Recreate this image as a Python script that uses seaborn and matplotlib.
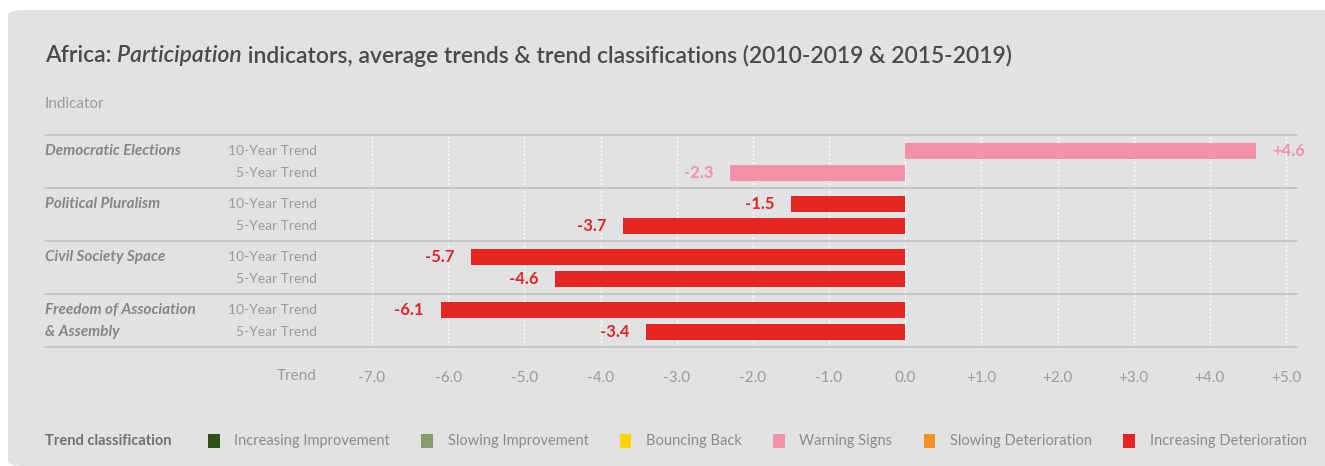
"""Africa participation indicators: 10-year and 5-year average trends."""
import matplotlib
matplotlib.use("Agg")
import matplotlib.pyplot as plt
import matplotlib.patches as mpatches
import matplotlib.transforms as mtransforms
import pandas as pd
import seaborn as sns

indicators = ["Democratic Elections", "Political Pluralism", "Civil Society Space",
              "Freedom of Association\n& Assembly"]
periods = ["10-Year Trend", "5-Year Trend"]
trend_10y = [4.6, -1.5, -5.7, -6.1]
trend_5y = [-2.3, -3.7, -4.6, -3.4]
class_10y = ["Warning Signs", "Increasing Deterioration", "Increasing Deterioration",
             "Increasing Deterioration"]
class_5y = ["Warning Signs", "Increasing Deterioration", "Increasing Deterioration",
            "Increasing Deterioration"]
classes = ["Increasing Improvement", "Slowing Improvement", "Bouncing Back",
           "Warning Signs", "Slowing Deterioration", "Increasing Deterioration"]
class_colors = ["#2f5317", "#8a9a6f", "#ffd200", "#f391a9", "#f39323", "#e52521"]
x_ticks = [-7, -6, -5, -4, -3, -2, -1, 0, 1, 2, 3, 4, 5]

PANEL = "#e1e2e4"
TXT = "#9a9a9a"
DARK = "#4a4a4a"
W, H = 1325, 466

# row positions in pixel-like units: group pitch 53, rows 16 and 38 inside a group
rows = []
for g, name in enumerate(indicators):
    for k, (val, cls) in enumerate([(trend_10y[g], class_10y[g]), (trend_5y[g], class_5y[g])]):
        rows.append({"indicator": name, "period": periods[k], "value": val,
                     "cls": cls, "pos": g * 53 + (16 if k == 0 else 38)})
df = pd.DataFrame(rows)
palette = dict(zip(classes, class_colors))

sns.set_theme(style="white")
plt.rcParams["font.family"] = ["Lato", "DejaVu Sans"]

fig = plt.figure(figsize=(W / 100, H / 100), dpi=100)
fig.patch.set_facecolor("white")
fig.add_artist(mpatches.FancyBboxPatch((8 / W, 0), 1.2, 1 - 10 / H,
                                       boxstyle="round,pad=0,rounding_size=0.012",
                                       transform=fig.transFigure, facecolor=PANEL,
                                       edgecolor="none", zorder=-10))

ax_l, ax_r, ax_t, ax_b = 360, 1297, 135, 347
ax = fig.add_axes([ax_l / W, 1 - ax_b / H, (ax_r - ax_l) / W, (ax_b - ax_t) / H])
ax.set_facecolor("none")

sns.barplot(data=df, x="value", y="pos", hue="cls", palette=palette, orient="h",
            native_scale=True, dodge=False, width=16 / 22, errorbar=None,
            saturation=1, linewidth=0, legend=False, ax=ax, zorder=3)

px_per_unit = (1286 - 372) / 12
ax.set_xlim(-7 - (372 - ax_l) / px_per_unit, 5 + (ax_r - 1286) / px_per_unit)
ax.set_ylim(212, 0)

for x in x_ticks:
    ax.axvline(x, color="white", lw=1, ls=(0, (1.5, 1.5)), zorder=1)

for s in ax.spines.values():
    s.set_visible(False)

left_frac = (45 - ax_l) / (ax_r - ax_l)
for g in range(len(indicators) + 1):
    ax.axhline(g * 53, xmin=left_frac, xmax=1, color="#c5c6c8", lw=1.4,
               clip_on=False, zorder=2)

ax.set_xticks(x_ticks)
ax.set_xticklabels(["0.0" if v == 0 else f"{v:+.1f}" for v in x_ticks],
                   fontsize=11, color=TXT)
ax.tick_params(axis="x", length=0, pad=17)
ax.set_yticks([])
ax.set_xlabel("")
ax.set_ylabel("")

blend = mtransforms.blended_transform_factory(ax.transAxes, ax.transData)
lab_frac = (317 - ax_l) / (ax_r - ax_l)
for _, r in df.iterrows():
    ax.text(lab_frac, r["pos"], r["period"], transform=blend, ha="right", va="center",
            fontsize=10, color=TXT)
for g, name in enumerate(indicators):
    for k, line in enumerate(name.split("\n")):
        ax.text(left_frac, g * 53 + (16 if k == 0 else 38), line, transform=blend,
                ha="left", va="center", fontsize=11, color="#858585",
                style="italic", fontweight="bold")

for _, r in df.iterrows():
    col = palette[r["cls"]]
    off = 12 if r["value"] > 0 else -12
    ax.annotate(f"{r['value']:+.1f}", (r["value"], r["pos"]), xytext=(off, 0),
                textcoords="offset points", ha="left" if off > 0 else "right",
                va="center", fontsize=12, fontweight="bold", color=col)

ax.text(lab_frac, -29 / 212, "Trend", transform=ax.transAxes, ha="right",
        va="center", fontsize=11, color=TXT)

# title with italic part
y_title = 1 - 56 / H
tkw = dict(fontsize=16.5, color=DARK, va="center", fontweight="semibold")
t1 = fig.text(45 / W, y_title, "Africa: ", **tkw)
fig.canvas.draw()
rend = fig.canvas.get_renderer()
x = t1.get_window_extent(rend).x1 / W
t2 = fig.text(x, y_title, "Participation", style="italic", **tkw)
x = t2.get_window_extent(rend).x1 / W
fig.text(x, y_title, " indicators, average trends & trend classifications (2010-2019 & 2015-2019)",
         **tkw)

fig.text(45 / W, 1 - 104 / H, "Indicator", fontsize=11, color=TXT, va="center")

fig.text(45 / W, 1 - 441 / H, "Trend classification", fontsize=10.5, color="#707070",
         va="center", fontweight="bold")
handles = [mpatches.Patch(facecolor=c, edgecolor="none", label=l)
           for l, c in zip(classes, class_colors)]
leg = fig.legend(handles=handles, loc="center left", bbox_to_anchor=(208 / W, 1 - 441 / H),
                 ncol=6, frameon=False, fontsize=10.5, handlelength=0.8,
                 handleheight=1.1, handletextpad=1.0, columnspacing=2.15,
                 borderpad=0, borderaxespad=0)
for t in leg.get_texts():
    t.set_color("#8a8a8a")

fig.savefig("out.png", dpi=100, facecolor=fig.get_facecolor())
